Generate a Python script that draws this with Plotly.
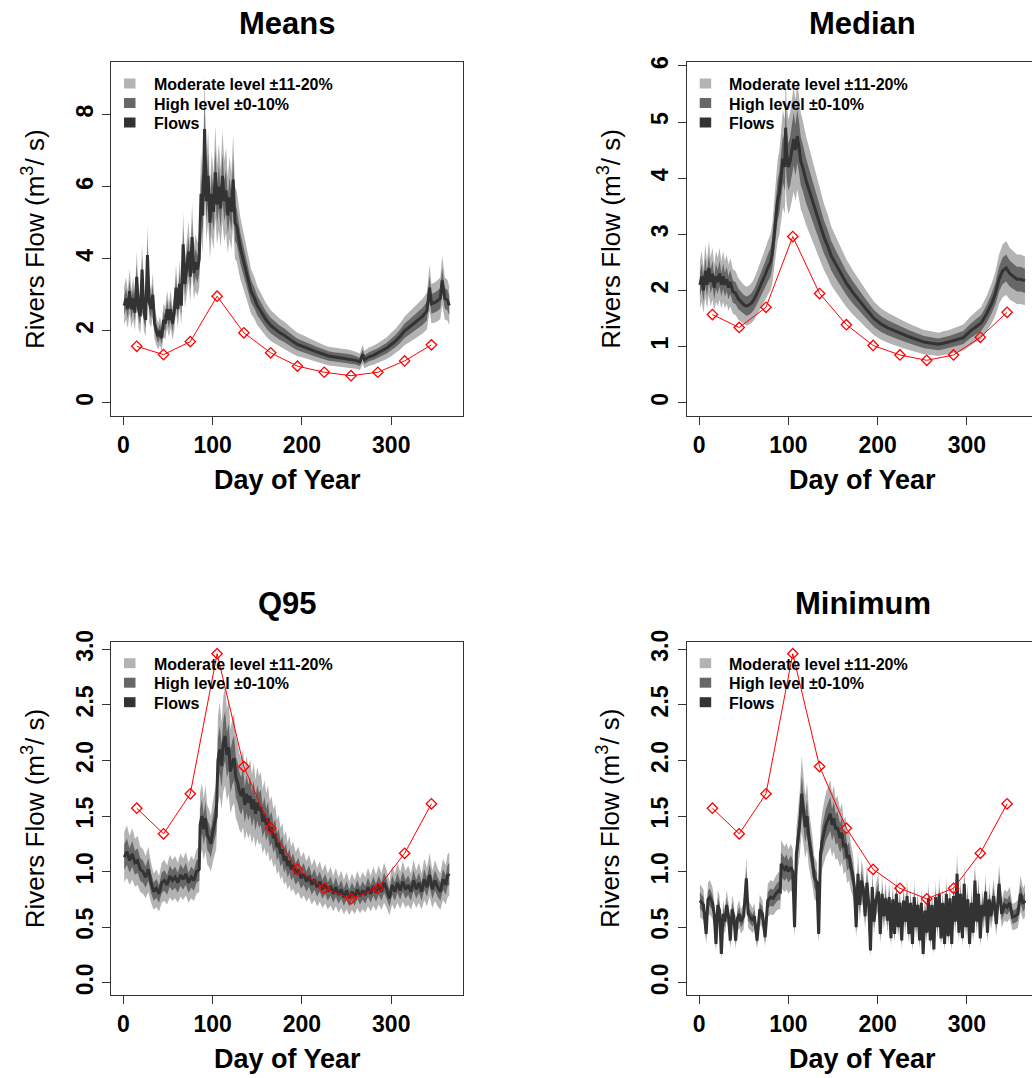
import plotly.graph_objects as go

W, H = 1032, 1078
FONT = "Liberation Sans, Arial, sans-serif"

# ---------------- data ----------------
ref_days = [15, 45, 75, 105, 135, 165, 195, 225, 255, 285, 315, 345]
ref_vals = [1.57, 1.34, 1.70, 2.96, 1.945, 1.39, 1.02, 0.85, 0.755, 0.85, 1.165, 1.61]

means_days = [1, 3, 5, 7, 9, 11, 13, 15, 17, 19,
              21, 23, 25, 27, 29, 31, 33, 35, 37, 39,
              41, 43, 45, 47, 49, 51, 53, 55, 57, 59,
              61, 63, 65, 67, 69, 71, 73, 75, 77, 79,
              81, 83, 85, 87, 89, 91, 92, 93, 95, 97,
              99, 101, 103, 105, 107, 109, 111, 113, 115, 117,
              119, 121, 123, 125, 127, 129, 131, 134, 137, 140,
              143, 147, 150, 155, 160, 165, 170, 175, 180, 185,
              190, 195, 200, 205, 210, 215, 220, 225, 230, 235,
              240, 245, 250, 255, 260, 265, 268, 270, 275, 280,
              285, 290, 295, 300, 305, 310, 315, 320, 325, 330,
              335, 340, 343, 345, 350, 355, 357, 360, 363, 365]
means_flow = [2.7, 2.9, 2.6, 3.1, 2.6, 2.9, 2.5, 3.5, 2.6, 2.4,
              3.7, 2.5, 2.3, 4.1, 2.8, 2.6, 3.0, 2.2, 2.0, 1.85,
              2.0, 1.8, 2.3, 2.2, 2.6, 2.3, 2.6, 2.2, 2.5, 3.2,
              2.6, 3.3, 2.7, 4.4, 3.3, 3.7, 4.2, 3.5, 4.6, 3.6,
              3.9, 3.7, 4.0, 5.8, 5.2, 7.6, 6.5, 5.6, 6.3, 5.0,
              5.8, 5.3, 6.4, 5.5, 6.0, 5.4, 6.3, 5.6, 5.9, 5.2,
              5.7, 5.3, 6.2, 5.0, 4.9, 4.6, 4.3, 4.0, 3.7, 3.4,
              3.1, 2.9, 2.7, 2.5, 2.3, 2.15, 2.05, 1.95, 1.88, 1.78,
              1.7, 1.62, 1.58, 1.53, 1.48, 1.43, 1.38, 1.33, 1.30, 1.28,
              1.26, 1.25, 1.24, 1.22, 1.18, 1.14, 1.35, 1.2, 1.28, 1.32,
              1.38, 1.45, 1.52, 1.62, 1.72, 1.85, 2.0, 2.1, 2.2, 2.3,
              2.4, 2.55, 3.2, 2.75, 2.8, 2.9, 3.4, 2.9, 2.85, 2.7]

median_days = [1, 3, 5, 7, 9, 11, 13, 15, 17, 19,
               21, 23, 25, 27, 29, 31, 33, 35, 38,
               41, 44, 47, 50, 53, 56,
               59, 62, 65, 68, 71, 74, 77, 80, 82, 84,
               86, 88, 90, 92, 94, 96, 97, 98, 100, 102,
               104, 106, 108, 110, 112, 114, 116, 118, 120, 124,
               128, 132, 136, 140, 144, 148, 152, 158, 165, 172,
               180, 188, 196, 204, 212, 220, 228, 236, 244, 252,
               260, 268, 274, 280, 288, 296, 304, 310, 316, 322,
               328, 332, 336, 340, 344, 348, 352, 356, 360, 365]
median_flow = [2.1, 2.25, 2.0, 2.35, 2.1, 2.4, 2.15, 2.3, 2.05, 2.25,
               2.15, 2.3, 2.1, 2.25, 2.1, 2.2, 2.05, 2.15, 1.98,
               1.95, 1.85, 1.8, 1.75, 1.72, 1.74,
               1.78, 1.85, 1.95, 2.05, 2.15, 2.28, 2.4, 2.5, 2.65, 3.0,
               3.3, 3.6, 3.75, 4.0, 4.35, 4.2, 4.9, 4.45, 4.2, 4.3,
               4.55, 4.7, 4.5, 4.75, 4.55, 4.3, 4.2, 4.05, 3.95, 3.75,
               3.55, 3.35, 3.15, 2.95, 2.8, 2.62, 2.5, 2.32, 2.13, 1.97,
               1.8, 1.65, 1.5, 1.4, 1.33, 1.27, 1.22, 1.17, 1.12, 1.08,
               1.06, 1.04, 1.06, 1.08, 1.12, 1.16, 1.28, 1.35, 1.42, 1.58,
               1.78, 1.95, 2.2, 2.35, 2.4, 2.3, 2.25, 2.2, 2.2, 2.17]

q95_days = [1, 4, 7, 10, 13, 16, 19, 22, 25, 28,
            31, 34, 37, 40, 43, 46, 49, 52, 55, 58,
            61, 64, 67, 70, 73, 76, 79, 82, 85, 86,
            88, 90, 92, 94, 96, 98, 100, 102, 104, 106,
            108, 110, 112, 114, 116, 118, 120, 122, 124, 126,
            128, 130, 132, 134, 136, 138, 140, 142, 144, 146,
            148, 150, 152, 154, 156, 158, 160, 162, 164, 166,
            168, 170, 172, 174, 176, 178, 180, 182, 184, 186,
            188, 190,
            193, 196, 199, 202, 205, 208, 211, 214, 217, 220,
            223, 226, 229, 232, 235, 238, 241, 244, 247, 250,
            253, 256, 259, 262, 265, 268, 271, 274, 277, 280,
            283, 286, 289, 292, 295, 298, 301, 304, 307, 310,
            313, 316, 319, 322, 325, 328, 331, 334, 337, 340,
            343, 346, 349, 352, 355, 358, 361, 363, 365]
q95_flow = [1.13, 1.18, 1.10, 1.16, 1.08, 1.10, 1.02, 1.0, 0.95, 1.02,
            0.9, 0.82, 0.85, 0.8, 0.9, 0.92, 0.88, 0.96, 0.92, 0.95,
            0.9, 0.97, 0.93, 0.98, 0.9, 0.95, 0.92, 1.0, 1.02, 1.42,
            1.5, 1.38, 1.48, 1.33, 1.3, 1.25, 1.35, 1.42, 1.5, 2.0,
            2.1, 1.95, 2.15, 2.22, 2.05, 2.12, 1.9, 1.98, 2.02, 1.85,
            1.8, 1.72, 1.68, 1.75, 1.6, 1.7, 1.62, 1.68, 1.56, 1.65,
            1.52, 1.62, 1.55, 1.58, 1.45, 1.52, 1.42, 1.48, 1.36, 1.4,
            1.3, 1.34, 1.22, 1.26, 1.16, 1.2, 1.1, 1.14, 1.05, 1.1,
            1.02, 1.06,
            0.98, 1.02, 0.94, 0.98, 0.91, 0.96, 0.88, 0.93, 0.86, 0.91,
            0.84, 0.89, 0.82, 0.87, 0.8, 0.86, 0.79, 0.84, 0.77, 0.83,
            0.76, 0.82, 0.77, 0.84, 0.78, 0.83, 0.79, 0.86, 0.8, 0.87,
            0.81, 0.88, 0.82, 0.9, 0.84, 0.76, 0.88, 0.82, 0.9, 0.83,
            0.91, 0.84, 0.88, 0.82, 0.92, 0.84, 0.9, 0.82, 0.93, 0.86,
            0.97, 0.84, 0.92, 0.86, 0.82, 0.93, 0.88, 0.96, 0.98]

min_days = [1, 3, 5, 8, 10, 12, 15, 17, 19, 21,
            23, 25, 27, 29, 31, 33, 35, 37, 39, 41,
            43, 45, 47, 50, 53, 55, 58, 60, 62, 65,
            68, 71, 74, 77, 80, 83, 86, 89, 91, 92,
            94, 96, 98, 100, 103, 105, 107, 109, 111, 113,
            115, 117, 119, 121, 123, 125, 127, 129, 132, 134,
            136, 138, 140, 142, 145, 147, 149, 151, 153, 155,
            158, 160, 162, 164, 166, 168, 170, 172, 174, 176,
            178, 180, 182, 184, 186, 188, 190, 192, 194, 196,
            198, 201, 203, 205, 207, 209, 211, 213, 215, 217,
            219, 221, 223, 225, 227, 229, 231, 233, 235, 237,
            239, 241, 243, 245, 247, 249, 251, 253, 255, 257,
            259, 261, 263, 265, 267, 269, 271, 273, 275, 277,
            279, 281, 283, 285, 287, 289, 291, 293, 295, 297,
            299, 301, 303, 305, 307, 309, 311, 313, 315, 317,
            319, 321, 323, 325, 327, 330, 333, 336, 339, 342,
            345, 348, 351, 354, 357, 360, 363, 365]
min_flow = [0.74, 0.72, 0.70, 0.44, 0.75, 0.77, 0.72, 0.62, 0.35, 0.7,
            0.65, 0.26, 0.62, 0.55, 0.7, 0.6, 0.38, 0.66, 0.6, 0.38,
            0.58, 0.62, 0.55, 0.6, 0.94, 0.62, 0.58, 0.56, 0.6, 0.38,
            0.66, 0.62, 0.41, 0.74, 0.77, 0.76, 0.8, 0.83, 0.82, 1.07,
            1.04, 1.02, 1.05, 1.0, 1.04, 1.0, 0.5, 1.16, 1.3, 1.45,
            1.7, 1.55, 1.4, 1.5, 1.3, 1.2, 1.1, 0.95, 0.9, 0.44,
            1.16, 1.28, 1.35, 1.42, 1.48, 1.52, 1.42, 1.48, 1.38, 1.4,
            1.3, 1.35, 1.22, 1.25, 1.12, 1.15, 1.04, 0.98, 0.86, 0.5,
            0.98, 0.7, 0.92, 0.85, 0.6, 0.9, 0.72, 0.29, 0.86, 0.55,
            0.74, 0.82, 0.44, 0.8, 0.6, 0.76, 0.56, 0.77, 0.4, 0.75,
            0.44, 0.8, 0.5, 0.72, 0.38, 0.74, 0.55, 0.78, 0.44, 0.72,
            0.35, 0.77, 0.5, 0.7, 0.38, 0.72, 0.26, 0.65, 0.45, 0.76,
            0.38, 0.7, 0.3, 0.77, 0.5, 0.8, 0.4, 0.72, 0.35, 0.8,
            0.42, 0.76, 0.35, 0.78, 0.55, 0.98, 0.45, 0.8, 0.4, 0.89,
            0.5, 0.75, 0.35, 0.72, 0.45, 0.92, 0.55, 0.8, 0.4, 0.7,
            0.6, 0.82, 0.45, 0.75, 0.6, 0.78, 0.53, 0.89, 0.62, 0.7,
            0.68, 0.72, 0.59, 0.6, 0.62, 0.8, 0.71, 0.74]

panel_titles = ["Means", "Median", "Q95", "Minimum"]
legend_labels = ["Moderate level \u00b111-20%", "High level \u00b10-10%", "Flows"]
x_ticks = [0, 100, 200, 300]
y_ticks_means = [0, 2, 4, 6, 8]
y_ticks_median = [0, 1, 2, 3, 4, 5, 6]
y_ticks_low = [0.0, 0.5, 1.0, 1.5, 2.0, 2.5, 3.0]
y_ticklabels_low = ["0.0", "0.5", "1.0", "1.5", "2.0", "2.5", "3.0"]

MOD_COL = "#b3b3b3"
HIGH_COL = "#676767"
FLOW_COL = "#333333"
REF_COL = "#ff0000"

# ---------------- layout geometry (pixels) ----------------
def px(x):
    return x / W

def py(y):
    return 1 - y / H

panels = [
    ("Means", means_days, means_flow, (111, 62, 463.3, 416), [-13.8, 380.7], [-0.364, 9.46], y_ticks_means, None, True),
    ("Median", median_days, median_flow, (686.7, 62, 1032, 416), [-13.8, 372.9], [-0.237, 6.07], y_ticks_median, None, False),
    ("Q95", q95_days, q95_flow, (111, 641.7, 463.3, 995), [-13.8, 380.7], [-0.11, 3.068], y_ticks_low, y_ticklabels_low, True),
    ("Minimum", min_days, min_flow, (686.7, 641.7, 1032, 995), [-13.8, 372.9], [-0.11, 3.068], y_ticks_low, y_ticklabels_low, False),
]

fig = go.Figure()
annotations = []
shapes = []

for i, (title, days, flow, box, xr, yr, yt, ytl, right_line) in enumerate(panels):
    n = i + 1
    xa = "x" if n == 1 else f"x{n}"
    ya = "y" if n == 1 else f"y{n}"
    left, top, right, bottom = box

    lo20 = [v * 0.8 for v in flow]
    hi20 = [v * 1.2 for v in flow]
    lo10 = [v * 0.9 for v in flow]
    hi10 = [v * 1.1 for v in flow]

    common = dict(xaxis=xa, yaxis=ya, showlegend=False, hoverinfo="skip")
    fig.add_trace(go.Scatter(x=days, y=lo20, mode="lines", line=dict(width=0, color=MOD_COL), **common))
    fig.add_trace(go.Scatter(x=days, y=hi20, mode="lines", line=dict(width=0, color=MOD_COL),
                             fill="tonexty", fillcolor=MOD_COL, **common))
    fig.add_trace(go.Scatter(x=days, y=lo10, mode="lines", line=dict(width=0, color=HIGH_COL), **common))
    fig.add_trace(go.Scatter(x=days, y=hi10, mode="lines", line=dict(width=0, color=HIGH_COL),
                             fill="tonexty", fillcolor=HIGH_COL, **common))
    fig.add_trace(go.Scatter(x=days, y=flow, mode="lines", line=dict(width=3, color=FLOW_COL), **common))
    fig.add_trace(go.Scatter(x=ref_days, y=ref_vals, mode="lines+markers",
                             line=dict(width=1, color=REF_COL),
                             marker=dict(symbol="diamond-open", size=8, color=REF_COL,
                                         line=dict(width=1.3, color=REF_COL)),
                             **common))

    xkey = "xaxis" if n == 1 else f"xaxis{n}"
    ykey = "yaxis" if n == 1 else f"yaxis{n}"
    fig.layout[xkey] = dict(
        domain=[px(left), px(right)], range=xr, anchor=ya, automargin=False,
        tickmode="array", tickvals=x_ticks, ticks="outside", ticklen=8, tickwidth=1, tickcolor="#333",
        showline=True, linecolor="#333", linewidth=1.2, mirror=True,
        showgrid=False, zeroline=False,
        tickfont=dict(family=FONT, size=23, color="black", weight="bold"),
    )
    ycfg = dict(
        domain=[py(bottom), py(top)], range=yr, anchor=xa, automargin=False,
        tickmode="array", tickvals=yt, ticks="outside", ticklen=8, tickwidth=1, tickcolor="#333",
        showline=True, linecolor="#333", linewidth=1.2, mirror=right_line,
        showgrid=False, zeroline=False, tickangle=-90,
        tickfont=dict(family=FONT, size=23, color="black", weight="bold"),
    )
    if ytl is not None:
        ycfg["ticktext"] = ytl
    fig.layout[ykey] = ycfg

    cx = (left + (left + 352.3)) / 2
    annotations.append(dict(text=f"<b>{title}</b>", x=px(cx), y=py(top - 38), xref="paper", yref="paper",
                            showarrow=False, font=dict(family=FONT, size=31, color="black"),
                            xanchor="center", yanchor="middle"))
    annotations.append(dict(text="<b>Day of Year</b>", x=px(cx), y=py(bottom + 64), xref="paper", yref="paper",
                            showarrow=False, font=dict(family=FONT, size=27, color="black"),
                            xanchor="center", yanchor="middle"))
    annotations.append(dict(text="Rivers Flow (m<sup>3</sup>/ s)", x=px(left - 78), y=py((top + bottom) / 2),
                            xref="paper", yref="paper", showarrow=False, textangle=-90,
                            font=dict(family=FONT, size=26, color="black"),
                            xanchor="center", yanchor="middle"))
    cols = [MOD_COL, HIGH_COL, FLOW_COL]
    for k, (lab, col) in enumerate(zip(legend_labels, cols)):
        yc = top + 21.5 + k * 19.5
        shapes.append(dict(type="rect", xref="paper", yref="paper",
                           x0=px(left + 13), x1=px(left + 24.5), y0=py(yc + 5), y1=py(yc - 5),
                           fillcolor=col, line=dict(width=0)))
        annotations.append(dict(text=f"<b>{lab}</b>", x=px(left + 40.5), y=py(yc + 1), xref="paper", yref="paper",
                                showarrow=False, font=dict(family=FONT, size=16, color="black"),
                                xanchor="left", yanchor="middle"))

fig.update_layout(
    width=W, height=H, margin=dict(l=0, r=0, t=0, b=0, pad=0, autoexpand=False),
    paper_bgcolor="white", plot_bgcolor="white",
    annotations=annotations, shapes=shapes, showlegend=False,
    font=dict(family=FONT),
)

fig.write_html("out.html")
